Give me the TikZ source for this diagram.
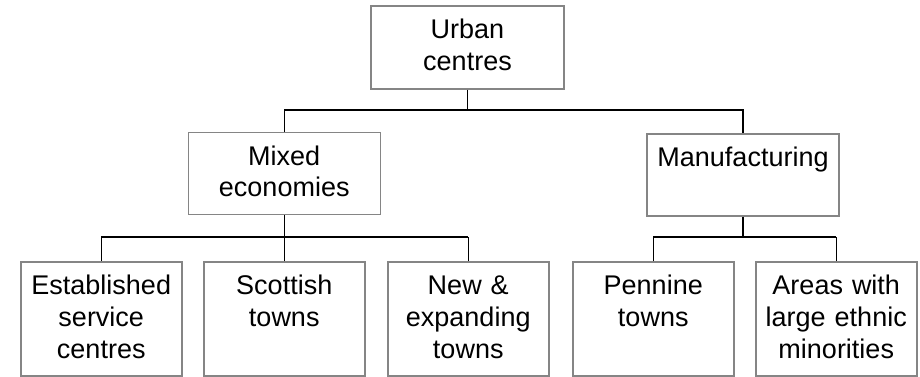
\documentclass[tikz,border=0pt]{standalone}
\usepackage{fontspec}
\setmainfont{Liberation Sans}
\usepackage{tikz}
\usetikzlibrary{positioning}
\usepackage{xcolor}
\definecolor{boxgray}{HTML}{858585}

\begin{document}
\begin{tikzpicture}[
    x=1pt, y=-1pt,
    node distance=20.5pt,
    font=\fontsize{27}{31.7}\selectfont,
    box/.style={draw=boxgray, line width=1.5pt, inner xsep=0pt, inner ysep=0pt, align=center, text height=33pt},
    upper/.style={box, text width=192pt, text depth=49pt},
    leaf/.style={box, text width=161pt, text depth=81pt},
    link/.style={draw=black, line width=1.5pt},
]
\useasboundingbox (0,0) rectangle (920,376);

% Bottom row
\node[leaf, anchor=north west] (est) at (20,261) {Established\\service\\centres};
\node[leaf, right=of est] (scot) {Scottish\\towns};
\node[leaf, right=21.5pt of scot] (new) {New \&\\expanding\\towns};
\node[leaf, right=22.5pt of new] (pen) {Pennine\\towns};
\node[leaf, right=of pen] (areas) {Areas with\\large ethnic\\minorities};

% Upper levels
\node[upper, above=46pt of scot] (mixed) {Mixed\\economies};
\node[upper, anchor=north] (manuf) at (743,133) {Manufacturing};
\node[upper, text width=193pt, text depth=50pt, anchor=north] (urban) at (467.5,5) {Urban\\centres};

% Bars
\coordinate (bar1) at (0,110);
\coordinate (bar2) at (0,237);

% Top split
\draw[link] (urban.south) -- (urban.south |- bar1);
\draw[link] (mixed.north) |- (manuf.north |- bar1) -- (manuf.north);

% Mixed economies branch
\draw[link] (mixed.south) -- (mixed.south |- bar2);
\draw[link] (est.north |- bar2) -- (new.north |- bar2);
\foreach \f in {est, scot, new} {
    \draw[link] (\f.north) -- (\f.north |- bar2);
}

% Manufacturing branch
\draw[link] (manuf.south) -- (manuf.south |- bar2);
\draw[link] (pen.north |- bar2) -- (areas.north |- bar2);
\foreach \f in {pen, areas} {
    \draw[link] (\f.north) -- (\f.north |- bar2);
}

\end{tikzpicture}
\end{document}
